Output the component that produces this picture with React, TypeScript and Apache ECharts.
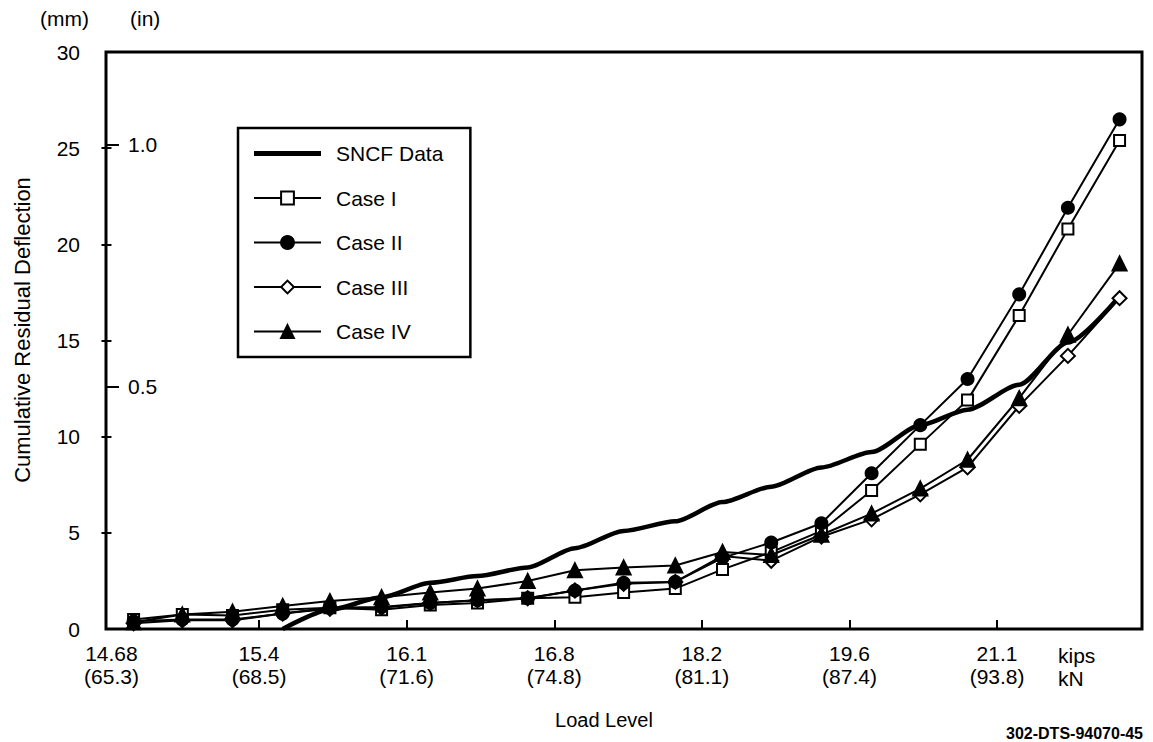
import React, { useEffect, useRef } from 'react';
import * as echarts from 'echarts';

const FONT = '"Liberation Sans", Arial, Helvetica, sans-serif';

// x-axis tick labels (load level)
const kipsLabels = ['14.68', '15.4', '16.1', '16.8', '18.2', '19.6', '21.1'];
const knLabels = ['(65.3)', '(68.5)', '(71.6)', '(74.8)', '(81.1)', '(87.4)', '(93.8)'];
const tickPositions = [0, 1, 2, 3, 4, 5, 6];

// horizontal positions of the load steps, in tick units
const loadPositions = [
  0.15, 0.48, 0.82, 1.16, 1.48, 1.83, 2.16, 2.48, 2.82, 3.14, 3.47,
  3.82, 4.14, 4.47, 4.81, 5.15, 5.48, 5.8, 6.15, 6.48, 6.83,
];

// cumulative residual deflection (mm)
const sncfData = [
  null, null, null, 0, 1.0, 1.65, 2.4, 2.75, 3.2, 4.2, 5.1,
  5.6, 6.6, 7.4, 8.4, 9.2, 10.6, 11.4, 12.7, 14.9, 17.3,
];
const caseI = [
  0.5, 0.75, 0.7, 1.0, 1.1, 1.0, 1.25, 1.35, 1.6, 1.65, 1.9,
  2.1, 3.1, 4.0, 5.1, 7.2, 9.6, 11.9, 16.3, 20.8, 25.4,
];
const caseII = [
  0.4, 0.5, 0.5, 0.8, 1.1, 1.15, 1.35, 1.5, 1.6, 2.0, 2.4,
  2.45, 3.7, 4.5, 5.5, 8.1, 10.6, 13.0, 17.4, 21.9, 26.5,
];
const caseIII = [
  0.3, 0.45, 0.45, 0.8, 1.05, 1.1, 1.35, 1.5, 1.6, 2.0, 2.35,
  2.45, 3.8, 3.55, 4.8, 5.7, 7.0, 8.4, 11.6, 14.2, 17.2,
];
const caseIV = [
  0.35, 0.75, 0.9, 1.2, 1.45, 1.65, 1.9, 2.1, 2.5, 3.05, 3.2,
  3.3, 4.0, 3.85, 4.9, 6.0, 7.3, 8.8, 12.0, 15.3, 19.0,
];

const mmTicks = [5, 10, 15, 20, 25];
const inchTicks = [0.5, 1.0];

function toPairs(vals: (number | null)[]) {
  const out: [number, number][] = [];
  vals.forEach((v, i) => {
    if (v !== null) out.push([loadPositions[i], v]);
  });
  return out;
}

export default function App() {
  const ref = useRef<HTMLDivElement>(null);

  useEffect(() => {
    document.body.style.margin = '0';
    const chart = echarts.init(ref.current!, null, { renderer: 'svg' });
    const black = '#000';
    const txt = { color: black, fontFamily: FONT, fontSize: 21 };

    const caseSeries = (name: string, data: number[], symbol: string, size: number, z: number) => ({
      name,
      type: 'line',
      data: toPairs(data),
      symbol,
      symbolSize: size,
      lineStyle: { color: black, width: 2 },
      itemStyle: { color: black, borderColor: black, borderWidth: 2 },
      z,
    });

    chart.setOption({
      animation: false,
      backgroundColor: '#fff',
      grid: {
        left: 106,
        right: 11,
        top: 52,
        bottom: 113,
        show: true,
        borderColor: black,
        borderWidth: 3,
        backgroundColor: 'transparent',
      },
      xAxis: {
        type: 'value',
        min: -0.037,
        max: 6.982,
        axisLine: { show: false },
        splitLine: { show: false },
        axisTick: {
          show: true,
          inside: true,
          length: 9,
          customValues: [1, 2, 3, 4, 5, 6],
          lineStyle: { color: black, width: 2 },
        },
        axisLabel: {
          ...txt,
          margin: 13,
          lineHeight: 23,
          customValues: tickPositions,
          formatter: (v: number) => {
            const i = tickPositions.indexOf(Math.round(v));
            return `${kipsLabels[i]}\n${knLabels[i]}`;
          },
        },
      },
      yAxis: [
        {
          type: 'value',
          min: 0,
          max: 30,
          interval: 5,
          position: 'left',
          axisLine: { show: false },
          splitLine: { show: false },
          axisTick: {
            show: true,
            inside: false,
            length: 10,
            customValues: mmTicks,
            lineStyle: { color: black, width: 2 },
          },
          axisLabel: { ...txt, margin: 26 },
        },
        {
          type: 'value',
          min: 0,
          max: 1.192,
          position: 'left',
          axisLine: { show: false },
          splitLine: { show: false },
          axisTick: {
            show: true,
            inside: true,
            length: 13,
            customValues: inchTicks,
            lineStyle: { color: black, width: 2 },
          },
          axisLabel: {
            ...txt,
            inside: true,
            margin: 22,
            customValues: inchTicks,
            formatter: (v: number) => v.toFixed(1),
          },
        },
      ],
      legend: {
        orient: 'vertical',
        left: 238,
        top: 128,
        data: [
          { name: 'SNCF Data', icon: 'path://M0 0H67V5H0Z' },
          'Case I',
          'Case II',
          'Case III',
          'Case IV',
        ],
        itemWidth: 67,
        itemHeight: 16,
        itemGap: 23.5,
        padding: [15, 27, 15, 15],
        borderColor: black,
        borderWidth: 2.5,
        backgroundColor: '#fff',
        textStyle: { ...txt, padding: [0, 0, 0, 10] },
      },
      graphic: [
        { type: 'text', left: 40, top: 8, style: { text: '(mm)', fill: black, font: `21px ${FONT}` } },
        { type: 'text', left: 130, top: 8, style: { text: '(in)', fill: black, font: `21px ${FONT}` } },
        {
          type: 'text',
          x: 22,
          y: 330,
          rotation: Math.PI / 2,
          style: {
            text: 'Cumulative Residual Deflection',
            fill: black,
            font: `22px ${FONT}`,
            align: 'center',
            verticalAlign: 'middle',
          },
        },
        { type: 'text', x: 1058, y: 655, style: { text: 'kips', fill: black, font: `21px ${FONT}`, verticalAlign: 'middle' } },
        { type: 'text', x: 1058, y: 678, style: { text: 'kN', fill: black, font: `21px ${FONT}`, verticalAlign: 'middle' } },
        { type: 'text', x: 604, y: 720, style: { text: 'Load Level', fill: black, font: `20px ${FONT}`, align: 'center', verticalAlign: 'middle' } },
        { type: 'text', x: 1143, y: 733, style: { text: '302-DTS-94070-45', fill: black, font: `bold 16px ${FONT}`, align: 'right', verticalAlign: 'middle' } },
      ],
      series: [
        {
          name: 'SNCF Data',
          type: 'line',
          data: toPairs(sncfData),
          symbol: 'none',
          smooth: 0.25,
          smoothMonotone: 'x',
          lineStyle: { color: black, width: 4.5 },
          itemStyle: { color: black },
          z: 2,
        },
        caseSeries('Case I', caseI, 'emptyRect', 11, 3),
        caseSeries('Case II', caseII, 'circle', 12, 5),
        caseSeries('Case III', caseIII, 'emptyDiamond', 14, 4),
        caseSeries('Case IV', caseIV, 'triangle', 14, 6),
      ],
    });

    return () => chart.dispose();
  }, []);

  return <div ref={ref} style={{ width: 1153, height: 742 }} />;
}
